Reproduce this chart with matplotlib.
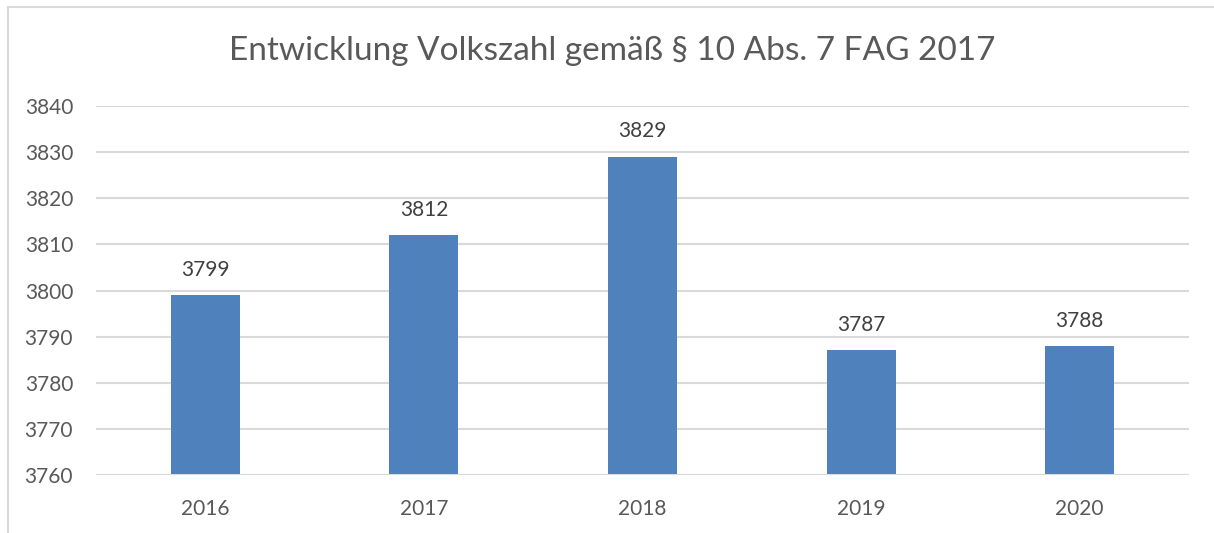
import matplotlib.pyplot as plt
from matplotlib.patches import Rectangle

years = ["2016", "2017", "2018", "2019", "2020"]
population = [3799, 3812, 3829, 3787, 3788]
y_ticks = [3760, 3770, 3780, 3790, 3800, 3810, 3820, 3830, 3840]

text_color = "#595959"
bar_color = "#4F81BD"
grid_color = "#D9D9D9"

plt.rcParams['font.family'] = ['Lato', 'DejaVu Sans']

fig = plt.figure(figsize=(12.14, 5.33), dpi=100)
ax = fig.add_axes([0.0791, 0.1088, 0.9003, 0.6923])

x = range(len(years))
bars = ax.bar(x, [p - y_ticks[0] for p in population], bottom=y_ticks[0],
              width=0.316, color=bar_color, zorder=3)

for i, val in enumerate(population):
    ax.annotate(str(val), (i, val), xytext=(0, 11), textcoords="offset points",
                ha="center", va="bottom", fontsize=15, color="#404040")

ax.set_xlim(-0.5, len(years) - 0.5)
ax.set_ylim(y_ticks[0], y_ticks[-1])
ax.set_yticks(y_ticks)
ax.set_xticks(list(x))
ax.set_xticklabels(years)
ax.grid(axis="y", color=grid_color, linewidth=1.5, zorder=0)
ax.tick_params(axis="both", length=0, labelsize=15, colors=text_color)
ax.tick_params(axis="y", pad=16.5)
ax.tick_params(axis="x", pad=17)
for s in ax.spines.values():
    s.set_visible(False)
ax.axhline(y_ticks[0], color=grid_color, linewidth=1.5, zorder=4)

fig.text(0.504, 0.905, "Entwicklung Volkszahl gemäß § 10 Abs. 7 FAG 2017",
         ha="center", va="center", fontsize=24, color=text_color)

fig.add_artist(Rectangle((8 / 1214, -0.1), 1.1, 0.9869 + 0.1, transform=fig.transFigure,
                         fill=False, edgecolor=grid_color, linewidth=1.5))

fig.savefig("out.png", dpi=100)
